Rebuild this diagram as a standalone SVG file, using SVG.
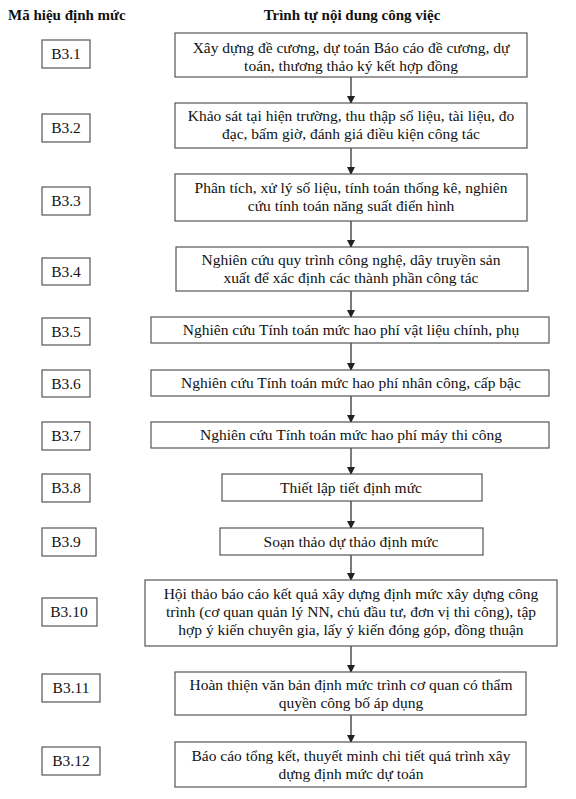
<svg xmlns="http://www.w3.org/2000/svg" width="576" height="799" viewBox="0 0 576 799">
<defs>
<marker id="ah" markerWidth="8" markerHeight="8" refX="7" refY="4" orient="auto" markerUnits="userSpaceOnUse">
<path d="M0,0 L8,4 L0,8 Z" fill="#222"/>
</marker>
<style>
.box{fill:#fff;stroke:#555;stroke-width:1.2}
.t{font-family:"Liberation Serif","Times New Roman",serif;font-size:15.5px;fill:#111;text-anchor:middle}
.h{font-family:"Liberation Serif","Times New Roman",serif;font-size:15px;font-weight:bold;fill:#111}
.c{stroke:#222;stroke-width:1.2;fill:none;marker-end:url(#ah)}
</style>
</defs>
<rect width="576" height="799" fill="#fff"/>
<g id="headers">
<text class="h" x="8" y="20">Mã hiệu định mức</text>
<text class="h" x="352" y="20" text-anchor="middle">Trình tự nội dung công việc</text>
</g>
<g id="codes">
<g id="c1"><rect class="box" x="42" y="40" width="48" height="28"/><text class="t" x="66" y="59">B3.1</text></g>
<g id="c2"><rect class="box" x="42" y="114" width="48" height="28"/><text class="t" x="66" y="133">B3.2</text></g>
<g id="c3"><rect class="box" x="42" y="187" width="48" height="28"/><text class="t" x="66" y="206">B3.3</text></g>
<g id="c4"><rect class="box" x="42" y="258" width="48" height="27"/><text class="t" x="66" y="277">B3.4</text></g>
<g id="c5"><rect class="box" x="42" y="318" width="48" height="27"/><text class="t" x="66" y="337">B3.5</text></g>
<g id="c6"><rect class="box" x="42" y="370" width="48" height="27"/><text class="t" x="66" y="389">B3.6</text></g>
<g id="c7"><rect class="box" x="42" y="422" width="48" height="28"/><text class="t" x="66" y="441">B3.7</text></g>
<g id="c8"><rect class="box" x="42" y="474" width="48" height="28"/><text class="t" x="66" y="493">B3.8</text></g>
<g id="c9"><rect class="box" x="42" y="528" width="54" height="28"/><text class="t" x="66" y="547">B3.9</text></g>
<g id="c10"><rect class="box" x="42" y="598" width="55" height="28"/><text class="t" x="69" y="617">B3.10</text></g>
<g id="c11"><rect class="box" x="42" y="674" width="58" height="28"/><text class="t" x="71" y="693">B3.11</text></g>
<g id="c12"><rect class="box" x="42" y="747" width="58" height="28"/><text class="t" x="71" y="766">B3.12</text></g>
</g>
<g id="connectors">
<line class="c" x1="351" y1="77" x2="351" y2="103"/>
<line class="c" x1="351" y1="148" x2="351" y2="174"/>
<line class="c" x1="351" y1="221" x2="351" y2="247"/>
<line class="c" x1="351" y1="291" x2="351" y2="317"/>
<line class="c" x1="351" y1="343" x2="351" y2="370"/>
<line class="c" x1="351" y1="396" x2="351" y2="422"/>
<line class="c" x1="351" y1="448" x2="351" y2="474"/>
<line class="c" x1="351" y1="501" x2="351" y2="528"/>
<line class="c" x1="351" y1="555" x2="351" y2="580"/>
<line class="c" x1="351" y1="646" x2="351" y2="672"/>
<line class="c" x1="351" y1="715" x2="351" y2="742"/>
</g>
<g id="s1"><rect class="box" x="175" y="33" width="352" height="44"/><text class="t" x="351" y="53">Xây dựng đề cương, dự toán Báo cáo đề cương, dự</text><text class="t" x="351" y="71">toán, thương thảo ký kết hợp đồng</text></g>
<g id="s2"><rect class="box" x="175" y="103" width="352" height="45"/><text class="t" x="351" y="121">Khảo sát tại hiện trường, thu thập số liệu, tài liệu, đo</text><text class="t" x="351" y="139">đạc, bấm giờ, đánh giá điều kiện công tác</text></g>
<g id="s3"><rect class="box" x="175" y="174" width="352" height="47"/><text class="t" x="351" y="193">Phân tích, xử lý số liệu, tính toán thống kê, nghiên</text><text class="t" x="351" y="211">cứu tính toán năng suất điển hình</text></g>
<g id="s4"><rect class="box" x="176" y="247" width="352" height="44"/><text class="t" x="351" y="265">Nghiên cứu quy trình công nghệ, dây truyền sản</text><text class="t" x="351" y="283">xuất để xác định các thành phần công tác</text></g>
<g id="s5"><rect class="box" x="151" y="317" width="398" height="26"/><text class="t" x="351" y="335">Nghiên cứu Tính toán mức hao phí vật liệu chính, phụ</text></g>
<g id="s6"><rect class="box" x="151" y="370" width="398" height="26"/><text class="t" x="351" y="388">Nghiên cứu Tính toán mức hao phí nhân công, cấp bậc</text></g>
<g id="s7"><rect class="box" x="151" y="422" width="398" height="26"/><text class="t" x="351" y="440">Nghiên cứu Tính toán mức hao phí máy thi công</text></g>
<g id="s8"><rect class="box" x="222" y="474" width="260" height="27"/><text class="t" x="351" y="493">Thiết lập tiết định mức</text></g>
<g id="s9"><rect class="box" x="220" y="528" width="263" height="27"/><text class="t" x="351" y="547">Soạn thảo dự thảo định mức</text></g>
<g id="s10"><rect class="box" x="145" y="580" width="412" height="66"/><text class="t" x="351" y="599">Hội thảo báo cáo kết quả xây dựng định mức xây dựng công</text><text class="t" x="351" y="617">trình (cơ quan quản lý NN, chủ đầu tư, đơn vị thi công), tập</text><text class="t" x="351" y="635">hợp ý kiến chuyên gia, lấy ý kiến đóng góp, đồng thuận</text></g>
<g id="s11"><rect class="box" x="175" y="672" width="351" height="43"/><text class="t" x="351" y="690">Hoàn thiện văn bản định mức trình cơ quan có thẩm</text><text class="t" x="351" y="708">quyền công bố áp dụng</text></g>
<g id="s12"><rect class="box" x="175" y="742" width="351" height="45"/><text class="t" x="351" y="761">Báo cáo tổng kết, thuyết minh chi tiết quá trình xây</text><text class="t" x="351" y="779">dựng định mức dự toán</text></g>
</svg>
